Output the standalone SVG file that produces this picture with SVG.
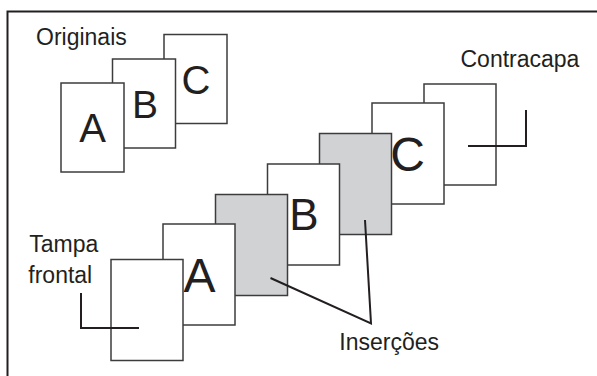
<svg xmlns="http://www.w3.org/2000/svg" width="597" height="376" viewBox="0 0 597 376">
<style>
.pg{fill:#ffffff;stroke:#3c3c3c;stroke-width:1.5}
.ins{fill:#d1d2d4;stroke:#3c3c3c;stroke-width:1.5}
.lbl{font-family:"Liberation Sans",Arial,sans-serif;font-size:23px;fill:#231f20}
.big{font-family:"Liberation Sans",Arial,sans-serif;fill:#231f20;text-anchor:middle}
.ld{fill:none;stroke:#231f20;stroke-width:2}
</style>
<rect x="0" y="0" width="597" height="376" fill="#ffffff"/>
<path d="M7.5,376 V11.5 H597" fill="none" stroke="#231f20" stroke-width="2"/>
<g id="originais">
<text class="lbl" x="36" y="45">Originais</text>
<g id="orig-c"><rect class="pg" x="164" y="34.5" width="63" height="89"/><text class="big" x="196" y="94" font-size="40">C</text></g>
<g id="orig-b"><rect class="pg" x="112.5" y="59" width="63" height="89"/><text class="big" x="145" y="118" font-size="39">B</text></g>
<g id="orig-a"><rect class="pg" x="61" y="83" width="63" height="89"/><text class="big" x="92.5" y="141.5" font-size="40">A</text></g>
</g>
<g id="contracapa"><rect class="pg" x="424" y="84" width="72" height="101"/><text class="lbl" x="460.5" y="67.3">Contracapa</text></g>
<g id="copia-c"><rect class="pg" x="372" y="103" width="72" height="101"/><text class="big" x="407.5" y="171" font-size="48">C</text></g>
<g id="insercao-2"><rect class="ins" x="319.5" y="133.5" width="72" height="101"/></g>
<g id="copia-b"><rect class="pg" x="267.5" y="164" width="72" height="101"/><text class="big" x="304" y="229.5" font-size="44">B</text></g>
<g id="insercao-1"><rect class="ins" x="215.5" y="194.5" width="72" height="101"/></g>
<g id="copia-a"><rect class="pg" x="163" y="224" width="72" height="101"/><text class="big" x="199.5" y="291.5" font-size="48">A</text></g>
<g id="tampa-frontal"><rect class="pg" x="111" y="259.5" width="72" height="101"/><text class="lbl" x="29.3" y="251.7">Tampa</text><text class="lbl" x="28.3" y="283.3">frontal</text></g>
<g id="insercoes-label"><text class="lbl" x="339.3" y="350">Inserções</text></g>
<g id="connectors">
<path class="ld" d="M81,293 V328 H139"/>
<path class="ld" d="M526,110 V146 H468"/>
<path class="ld" d="M270.5,278 L371,323.5 L365,220"/>
</g>
</svg>
